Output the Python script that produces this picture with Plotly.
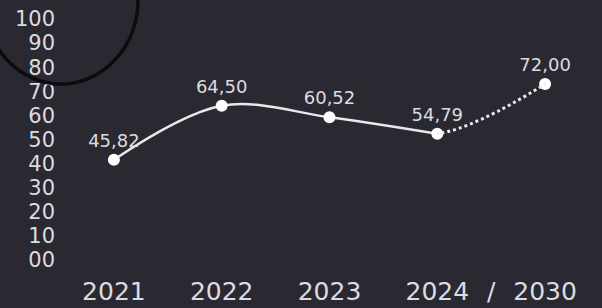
import plotly.graph_objects as go

years = ["2021", "2022", "2023", "2024", "2030"]
values = [45.82, 64.50, 60.52, 54.79, 72.00]
y_ticks = [0, 10, 20, 30, 40, 50, 60, 70, 80, 90, 100]
y_tick_text = ["00", "10", "20", "30", "40", "50", "60", "70", "80", "90", "100"]

BG = "#2a2830"
TXT = "#dcdce0"
LINE = "#e9e9ec"
FONT = "DejaVu Sans"

pos = list(range(len(years)))
xr = [-0.5, 4.5]
f = (3 - xr[0]) / (xr[1] - xr[0])
# the photographed chart plots its points on a slightly different scale
# from its printed axis labels; an invisible overlaid axis reproduces it
data_range = [11.1, 94.5]

labels = [f"{v:.2f}".replace(".", ",") for v in values]

fig = go.Figure()
# empty trace so the labelled axis pair (x, y) is drawn
fig.add_trace(go.Scatter(x=[], y=[], xaxis="x", yaxis="y",
                         hoverinfo="skip", showlegend=False))
# solid part (2021-2024)
fig.add_trace(go.Scatter(
    x=pos[:4], y=values[:4], mode="lines", xaxis="x", yaxis="y2",
    line=dict(color=LINE, width=2.5, shape="spline", smoothing=1),
    hoverinfo="skip", showlegend=False))
# dotted projection (2024-2030), clipped left of 2024
fig.add_trace(go.Scatter(
    x=pos[2:], y=values[2:], mode="lines", xaxis="x2", yaxis="y2",
    line=dict(color=LINE, width=3, shape="spline", smoothing=1, dash="dot"),
    hoverinfo="skip", showlegend=False))
# markers + labels
fig.add_trace(go.Scatter(
    x=pos, y=values, mode="markers+text", xaxis="x3", yaxis="y2",
    marker=dict(color="#ffffff", size=12),
    text=labels, textposition="top center",
    textfont=dict(color=TXT, size=18, family=FONT),
    cliponaxis=False, showlegend=False))

# pen doodle in the top-left corner of the photo
l, r, t, b = 60, 3, 19, 48
W, H = 602, 308
w, h = W - l - r, H - t - b
def px(xp): return (xp - l) / w
def py(yp): return 1 - (yp - t) / h
fig.add_shape(type="circle", xref="paper", yref="paper",
              x0=px(-16), x1=px(138), y0=py(84), y1=py(-84),
              line=dict(color="#0c0b0e", width=3.5), layer="above")

fig.update_layout(
    width=W, height=H,
    margin=dict(l=l, r=r, t=t, b=b),
    paper_bgcolor=BG, plot_bgcolor="rgba(0,0,0,0)",
    font=dict(family=FONT, color=TXT),
    xaxis=dict(range=xr, domain=[0, 1], anchor="y",
               tickvals=pos[:4] + [3.5, 4],
               ticktext=years[:4] + ["/", years[4]],
               tickfont=dict(size=25, color=TXT, family=FONT),
               showgrid=False, zeroline=False, showline=False, ticks="",
               ticklabelstandoff=14),
    xaxis2=dict(range=[3, xr[1]], domain=[f, 1], anchor="y2", visible=False,
                showgrid=False, zeroline=False),
    xaxis3=dict(range=xr, overlaying="x", anchor="y2", visible=False,
                showgrid=False, zeroline=False),
    yaxis=dict(range=[0, 100], anchor="x", tickvals=y_ticks, ticktext=y_tick_text,
               tickfont=dict(size=21, color=TXT, family=FONT),
               showgrid=False, zeroline=False, showline=False, ticks="",
               ticklabelstandoff=4),
    yaxis2=dict(range=data_range, overlaying="y", anchor="x", visible=False,
                showgrid=False, zeroline=False),
)

fig.write_html(
    "out.html",
    config={"displayModeBar": False},
    post_script=f"document.body.style.margin='0';document.body.style.background='{BG}';",
)
